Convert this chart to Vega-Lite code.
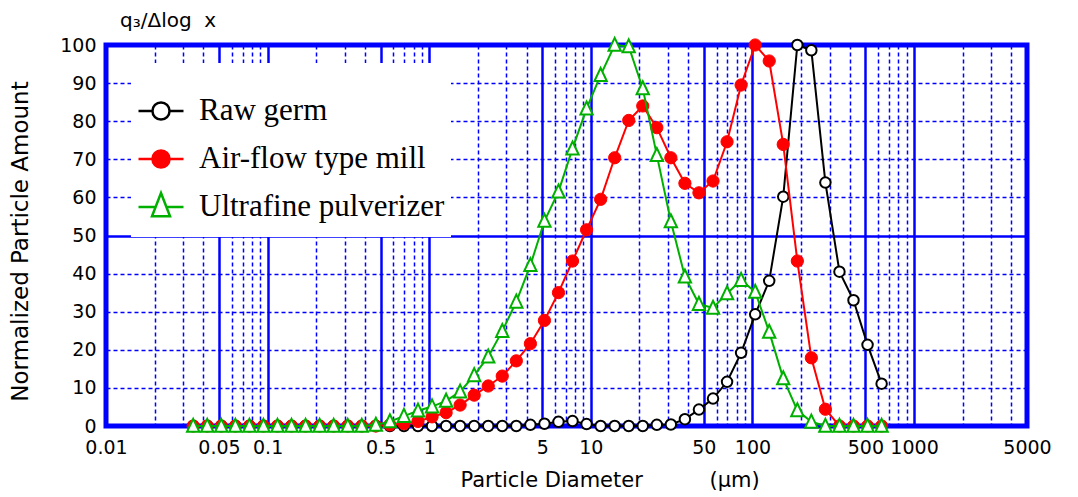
{
  "$schema": "https://vega.github.io/schema/vega-lite/v6.json",
  "width": 921,
  "height": 381,
  "autosize": {"type": "none"},
  "padding": {"left": 106, "top": 45, "right": 51, "bottom": 71},
  "background": "#ffffff",
  "title": {"text": "q₃/Δlog\u00a0\u00a0x", "anchor": "start", "frame": "group", "offset": 8, "dy": 21, "baseline": "alphabetic", "dx": 14, "font": "DejaVu Sans", "fontSize": 20, "fontWeight": "normal", "color": "#000000"},
  "data": {"values": [
    {"x":0.03464,"s":"Raw germ","y":0},{"x":0.04231,"s":"Raw germ","y":0},{"x":0.05168,"s":"Raw germ","y":0},{"x":0.06316,"s":"Raw germ","y":0},{"x":0.07715,"s":"Raw germ","y":0},{"x":0.09424,"s":"Raw germ","y":0},{"x":0.1151,"s":"Raw germ","y":0},{"x":0.1406,"s":"Raw germ","y":0},{"x":0.1718,"s":"Raw germ","y":0},{"x":0.2099,"s":"Raw germ","y":0},
    {"x":0.2564,"s":"Raw germ","y":0},{"x":0.3132,"s":"Raw germ","y":0},{"x":0.3826,"s":"Raw germ","y":0},{"x":0.4674,"s":"Raw germ","y":0},{"x":0.571,"s":"Raw germ","y":0},{"x":0.6975,"s":"Raw germ","y":0},{"x":0.8521,"s":"Raw germ","y":0},{"x":1.041,"s":"Raw germ","y":0},{"x":1.272,"s":"Raw germ","y":0},{"x":1.553,"s":"Raw germ","y":0},
    {"x":1.898,"s":"Raw germ","y":0},{"x":2.318,"s":"Raw germ","y":0},{"x":2.831,"s":"Raw germ","y":0},{"x":3.459,"s":"Raw germ","y":0},{"x":4.227,"s":"Raw germ","y":0.3},{"x":5.164,"s":"Raw germ","y":0.6},{"x":6.307,"s":"Raw germ","y":1.1},{"x":7.704,"s":"Raw germ","y":1.3},{"x":9.412,"s":"Raw germ","y":0.5},{"x":11.5,"s":"Raw germ","y":0},
    {"x":14.05,"s":"Raw germ","y":0},{"x":17.16,"s":"Raw germ","y":0},{"x":20.96,"s":"Raw germ","y":0},{"x":25.61,"s":"Raw germ","y":0.3},{"x":31.28,"s":"Raw germ","y":0.4},{"x":38.21,"s":"Raw germ","y":1.8},{"x":46.67,"s":"Raw germ","y":4.3},{"x":57.03,"s":"Raw germ","y":7.2},{"x":69.66,"s":"Raw germ","y":11.6},{"x":85.1,"s":"Raw germ","y":19.2},
    {"x":104,"s":"Raw germ","y":29.3},{"x":127,"s":"Raw germ","y":38.1},{"x":155.1,"s":"Raw germ","y":60.2},{"x":189.6,"s":"Raw germ","y":100},{"x":231.5,"s":"Raw germ","y":98.6},{"x":282.8,"s":"Raw germ","y":63.9},{"x":345.5,"s":"Raw germ","y":40.5},{"x":422.1,"s":"Raw germ","y":33},{"x":515.6,"s":"Raw germ","y":21.3},{"x":630,"s":"Raw germ","y":11.1},

    {"x":0.03464,"s":"Air-flow type mill","y":0},{"x":0.04231,"s":"Air-flow type mill","y":0},{"x":0.05168,"s":"Air-flow type mill","y":0},{"x":0.06316,"s":"Air-flow type mill","y":0},{"x":0.07715,"s":"Air-flow type mill","y":0},{"x":0.09424,"s":"Air-flow type mill","y":0},{"x":0.1151,"s":"Air-flow type mill","y":0},{"x":0.1406,"s":"Air-flow type mill","y":0},{"x":0.1718,"s":"Air-flow type mill","y":0},{"x":0.2099,"s":"Air-flow type mill","y":0},
    {"x":0.2564,"s":"Air-flow type mill","y":0},{"x":0.3132,"s":"Air-flow type mill","y":0},{"x":0.3826,"s":"Air-flow type mill","y":0},{"x":0.4674,"s":"Air-flow type mill","y":0},{"x":0.571,"s":"Air-flow type mill","y":0.3},{"x":0.6975,"s":"Air-flow type mill","y":0.6},{"x":0.8521,"s":"Air-flow type mill","y":1.2},{"x":1.041,"s":"Air-flow type mill","y":2.4},{"x":1.272,"s":"Air-flow type mill","y":3.5},{"x":1.553,"s":"Air-flow type mill","y":5.5},
    {"x":1.898,"s":"Air-flow type mill","y":8.1},{"x":2.318,"s":"Air-flow type mill","y":10.5},{"x":2.831,"s":"Air-flow type mill","y":13.1},{"x":3.459,"s":"Air-flow type mill","y":17.1},{"x":4.227,"s":"Air-flow type mill","y":21.6},{"x":5.164,"s":"Air-flow type mill","y":27.7},{"x":6.307,"s":"Air-flow type mill","y":35},{"x":7.704,"s":"Air-flow type mill","y":43.3},{"x":9.412,"s":"Air-flow type mill","y":51.5},{"x":11.5,"s":"Air-flow type mill","y":59.5},
    {"x":14.05,"s":"Air-flow type mill","y":70.4},{"x":17.16,"s":"Air-flow type mill","y":80.2},{"x":20.96,"s":"Air-flow type mill","y":84},{"x":25.61,"s":"Air-flow type mill","y":78.3},{"x":31.28,"s":"Air-flow type mill","y":70.4},{"x":38.21,"s":"Air-flow type mill","y":63.7},{"x":46.67,"s":"Air-flow type mill","y":61.2},{"x":57.03,"s":"Air-flow type mill","y":64.3},{"x":69.66,"s":"Air-flow type mill","y":74.6},{"x":85.1,"s":"Air-flow type mill","y":89.5},
    {"x":104,"s":"Air-flow type mill","y":100},{"x":127,"s":"Air-flow type mill","y":95.8},{"x":155.1,"s":"Air-flow type mill","y":73.9},{"x":189.6,"s":"Air-flow type mill","y":43.3},{"x":231.5,"s":"Air-flow type mill","y":17.9},{"x":282.8,"s":"Air-flow type mill","y":4.4},{"x":345.5,"s":"Air-flow type mill","y":0},{"x":422.1,"s":"Air-flow type mill","y":0},{"x":515.6,"s":"Air-flow type mill","y":0},{"x":630,"s":"Air-flow type mill","y":0},

    {"x":0.03464,"s":"Ultrafine pulverizer","y":0},{"x":0.04231,"s":"Ultrafine pulverizer","y":0},{"x":0.05168,"s":"Ultrafine pulverizer","y":0},{"x":0.06316,"s":"Ultrafine pulverizer","y":0},{"x":0.07715,"s":"Ultrafine pulverizer","y":0},{"x":0.09424,"s":"Ultrafine pulverizer","y":0},{"x":0.1151,"s":"Ultrafine pulverizer","y":0},{"x":0.1406,"s":"Ultrafine pulverizer","y":0},{"x":0.1718,"s":"Ultrafine pulverizer","y":0},{"x":0.2099,"s":"Ultrafine pulverizer","y":0},
    {"x":0.2564,"s":"Ultrafine pulverizer","y":0},{"x":0.3132,"s":"Ultrafine pulverizer","y":0},{"x":0.3826,"s":"Ultrafine pulverizer","y":0},{"x":0.4674,"s":"Ultrafine pulverizer","y":0.3},{"x":0.571,"s":"Ultrafine pulverizer","y":1.2},{"x":0.6975,"s":"Ultrafine pulverizer","y":2.6},{"x":0.8521,"s":"Ultrafine pulverizer","y":4},{"x":1.041,"s":"Ultrafine pulverizer","y":5.1},{"x":1.272,"s":"Ultrafine pulverizer","y":6.6},{"x":1.553,"s":"Ultrafine pulverizer","y":9},
    {"x":1.898,"s":"Ultrafine pulverizer","y":13.3},{"x":2.318,"s":"Ultrafine pulverizer","y":18.2},{"x":2.831,"s":"Ultrafine pulverizer","y":24.9},{"x":3.459,"s":"Ultrafine pulverizer","y":32.6},{"x":4.227,"s":"Ultrafine pulverizer","y":42.2},{"x":5.164,"s":"Ultrafine pulverizer","y":53.8},{"x":6.307,"s":"Ultrafine pulverizer","y":61.5},{"x":7.704,"s":"Ultrafine pulverizer","y":72.8},{"x":9.412,"s":"Ultrafine pulverizer","y":83.3},{"x":11.5,"s":"Ultrafine pulverizer","y":92.1},
    {"x":14.05,"s":"Ultrafine pulverizer","y":100},{"x":17.16,"s":"Ultrafine pulverizer","y":99.6},{"x":20.96,"s":"Ultrafine pulverizer","y":88.6},{"x":25.61,"s":"Ultrafine pulverizer","y":71.1},{"x":31.28,"s":"Ultrafine pulverizer","y":53.7},{"x":38.21,"s":"Ultrafine pulverizer","y":39.2},{"x":46.67,"s":"Ultrafine pulverizer","y":32},{"x":57.03,"s":"Ultrafine pulverizer","y":31},{"x":69.66,"s":"Ultrafine pulverizer","y":34.8},{"x":85.1,"s":"Ultrafine pulverizer","y":38.3},
    {"x":104,"s":"Ultrafine pulverizer","y":35.2},{"x":127,"s":"Ultrafine pulverizer","y":24.7},{"x":155.1,"s":"Ultrafine pulverizer","y":12.5},{"x":189.6,"s":"Ultrafine pulverizer","y":4.1},{"x":231.5,"s":"Ultrafine pulverizer","y":1.1},{"x":282.8,"s":"Ultrafine pulverizer","y":0},{"x":345.5,"s":"Ultrafine pulverizer","y":0},{"x":422.1,"s":"Ultrafine pulverizer","y":0},{"x":515.6,"s":"Ultrafine pulverizer","y":0},{"x":630,"s":"Ultrafine pulverizer","y":0}
  ]},
  "encoding": {
    "x": {
      "field": "x", "type": "quantitative",
      "scale": {"type": "log", "domain": [0.01, 5000], "nice": false},
      "axis": {
        "values": [0.01,0.02,0.03,0.04,0.05,0.06,0.07,0.08,0.09,0.1,0.2,0.3,0.4,0.5,0.6,0.7,0.8,0.9,1,2,3,4,5,6,7,8,9,10,20,30,40,50,60,70,80,90,100,200,300,400,500,600,700,800,900,1000,2000,3000,4000,5000],
        "format": "~g",
        "labelExpr": "indexof(['0.01','0.05','0.1','0.5','1','5','10','50','100','500','1000','5000'], datum.label) >= 0 ? datum.label : ''",
        "labelOverlap": false, "labelFlush": false, "labelBound": false,
        "labelFont": "DejaVu Sans", "labelFontSize": 19, "labelColor": "#000000", "labelPadding": 12, "labelDx": 6,
        "ticks": false, "tickSize": 0, "domain": false,
        "grid": true, "gridColor": "#0000ff",
        "gridDash": {"condition": {"test": "indexof([0.01,0.05,0.1,0.5,1,5,10,50,100,500,1000,5000], datum.value) >= 0", "value": []}, "value": [4, 3]},
        "gridWidth": {"condition": {"test": "indexof([0.01,0.05,0.1,0.5,1,5,10,50,100,500,1000,5000], datum.value) >= 0", "value": 2.5}, "value": 1.5},
        "title": "Particle Diameter\u00a0\u00a0\u00a0\u00a0\u00a0\u00a0\u00a0\u00a0\u00a0\u00a0(μm)",
        "titleFont": "DejaVu Sans", "titleFontSize": 21, "titleFontWeight": "normal", "titleColor": "#000000",
        "titleX": 354, "titleY": 54, "titleAlign": "left", "titleBaseline": "middle", "titleAnchor": "start"
      }
    },
    "y": {
      "field": "y", "type": "quantitative",
      "scale": {"domain": [0, 100], "nice": false},
      "axis": {
        "values": [0,10,20,30,40,50,60,70,80,90,100],
        "labelFont": "DejaVu Sans", "labelFontSize": 19, "labelColor": "#000000", "labelPadding": 10,
        "labelFlush": false, "labelOverlap": false,
        "ticks": false, "tickSize": 0, "domain": false,
        "grid": true, "gridColor": "#0000ff",
        "gridDash": {"condition": {"test": "datum.value === 50", "value": []}, "value": [4, 3]},
        "gridWidth": {"condition": {"test": "datum.value === 50", "value": 2.5}, "value": 1.5},
        "title": "Normalized Particle Amount",
        "titleFont": "DejaVu Sans", "titleFontSize": 23, "titleFontWeight": "normal", "titleColor": "#000000",
        "titleX": -86, "titleY": 196, "titleAngle": -90, "titleAlign": "center", "titleBaseline": "middle"
      }
    },
    "stroke": {
      "field": "s", "type": "nominal",
      "scale": {"domain": ["Raw germ", "Air-flow type mill", "Ultrafine pulverizer"], "range": ["#000000", "#ff0000", "#00b000"]},
      "legend": {
        "orient": "none", "legendX": 25, "legendY": 18,
        "title": " ", "titleFontSize": 8, "titlePadding": 10,
        "fillColor": "#ffffff", "padding": 6,
        "symbolSize": 2025, "symbolStrokeWidth": 2.5, "symbolOpacity": 1,
        "labelFont": "Liberation Serif", "labelFontSize": 31, "labelColor": "#000000", "labelOffset": 14, "labelLimit": 500,
        "clipHeight": 48, "rowPadding": 0,
        "encode": {
          "symbols": {
            "update": {
              "shape": {"signal": "datum.value === 'Ultrafine pulverizer' ? 'M-1,0L-0.24,0M0.24,0L1,0M0,-0.62L0.4,0.41L-0.4,0.41Z' : 'M-1,0L-0.38,0M0.38,0L1,0M0.38,0A0.38,0.38,0,1,1,-0.38,0A0.38,0.38,0,1,1,0.38,0Z'"},
              "fill": {"signal": "datum.value === 'Air-flow type mill' ? '#ff0000' : '#ffffff'"},
              "opacity": {"value": 1},
              "strokeWidth": {"value": 2.5}
            }
          }
        }
      }
    }
  },
  "layer": [
    {"transform": [{"filter": "datum.s === 'Raw germ'"}], "mark": {"type": "line", "strokeWidth": 2}},
    {"transform": [{"filter": "datum.s === 'Raw germ'"}], "mark": {"type": "point", "shape": "circle", "size": 110, "strokeWidth": 2, "fill": "#ffffff", "filled": true, "opacity": 1}},
    {"transform": [{"filter": "datum.s === 'Air-flow type mill'"}], "mark": {"type": "line", "strokeWidth": 2}},
    {"transform": [{"filter": "datum.s === 'Air-flow type mill'"}], "mark": {"type": "point", "shape": "circle", "size": 150, "strokeWidth": 1, "fill": "#ff0000", "filled": true, "opacity": 1}},
    {"transform": [{"filter": "datum.s === 'Ultrafine pulverizer'"}], "mark": {"type": "line", "strokeWidth": 2}},
    {"transform": [{"filter": "datum.s === 'Ultrafine pulverizer'"}], "mark": {"type": "point", "shape": "M0,-1.1L0.95,0.9L-0.95,0.9Z", "size": 169, "strokeWidth": 2, "fill": "#ffffff", "filled": true, "opacity": 1}}
  ],
  "config": {
    "view": {"stroke": "#0000ff", "strokeWidth": 5}
  }
}
